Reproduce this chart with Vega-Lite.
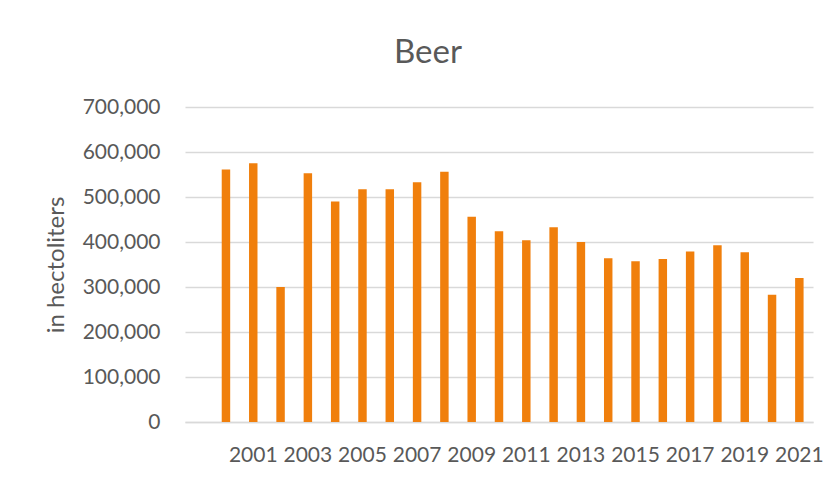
{
  "$schema": "https://vega.github.io/schema/vega-lite/v6.json",
  "width": 628,
  "height": 315,
  "autosize": {"type": "none"},
  "padding": {"left": 185, "top": 107, "right": 27, "bottom": 60},
  "background": "white",
  "title": {
    "text": "Beer",
    "font": "Lato",
    "fontSize": 33,
    "fontWeight": "normal",
    "color": "#595959",
    "anchor": "middle",
    "dx": -71,
    "offset": 26
  },
  "data": {
    "values": [
      {"year": "2000", "volume": 561000},
      {"year": "2001", "volume": 575000},
      {"year": "2002", "volume": 300000},
      {"year": "2003", "volume": 553000},
      {"year": "2004", "volume": 490000},
      {"year": "2005", "volume": 517000},
      {"year": "2006", "volume": 517000},
      {"year": "2007", "volume": 533000},
      {"year": "2008", "volume": 556000},
      {"year": "2009", "volume": 456000},
      {"year": "2010", "volume": 424000},
      {"year": "2011", "volume": 404000},
      {"year": "2012", "volume": 433000},
      {"year": "2013", "volume": 400000},
      {"year": "2014", "volume": 364000},
      {"year": "2015", "volume": 357000},
      {"year": "2016", "volume": 362000},
      {"year": "2017", "volume": 379000},
      {"year": "2018", "volume": 393000},
      {"year": "2019", "volume": 377000},
      {"year": "2020", "volume": 283000},
      {"year": "2021", "volume": 320000}
    ]
  },
  "mark": {"type": "bar", "color": "#F07F0C"},
  "encoding": {
    "x": {
      "field": "year",
      "type": "ordinal",
      "sort": null,
      "scale": {
        "domain": ["1999", "2000", "2001", "2002", "2003", "2004", "2005", "2006", "2007", "2008", "2009", "2010", "2011", "2012", "2013", "2014", "2015", "2016", "2017", "2018", "2019", "2020", "2021"],
        "paddingInner": 0.69,
        "paddingOuter": 0.345
      },
      "axis": {
        "title": null,
        "labelAngle": 0,
        "labelExpr": "(datum.value != '1999' && toNumber(datum.value) % 2 == 1) ? datum.value : ''",
        "labelFont": "Lato",
        "labelFontSize": 21,
        "labelColor": "#595959",
        "labelPadding": 22,
        "labelOverlap": false,
        "ticks": false,
        "domainColor": "#d9d9d9",
        "domainWidth": 1.5,
        "grid": false
      }
    },
    "y": {
      "field": "volume",
      "type": "quantitative",
      "scale": {"domain": [0, 700000], "nice": false},
      "axis": {
        "title": "in hectoliters",
        "titleFont": "Lato",
        "titleFontSize": 24,
        "titleFontWeight": "normal",
        "titleColor": "#595959",
        "titlePadding": 14,
        "values": [0, 100000, 200000, 300000, 400000, 500000, 600000, 700000],
        "format": ",.0f",
        "labelFont": "Lato",
        "labelFontSize": 21,
        "labelColor": "#595959",
        "labelPadding": 25,
        "ticks": false,
        "domain": false,
        "grid": true,
        "gridColor": "#d9d9d9",
        "gridWidth": 1.5
      }
    }
  },
  "config": {"view": {"stroke": null}}
}
